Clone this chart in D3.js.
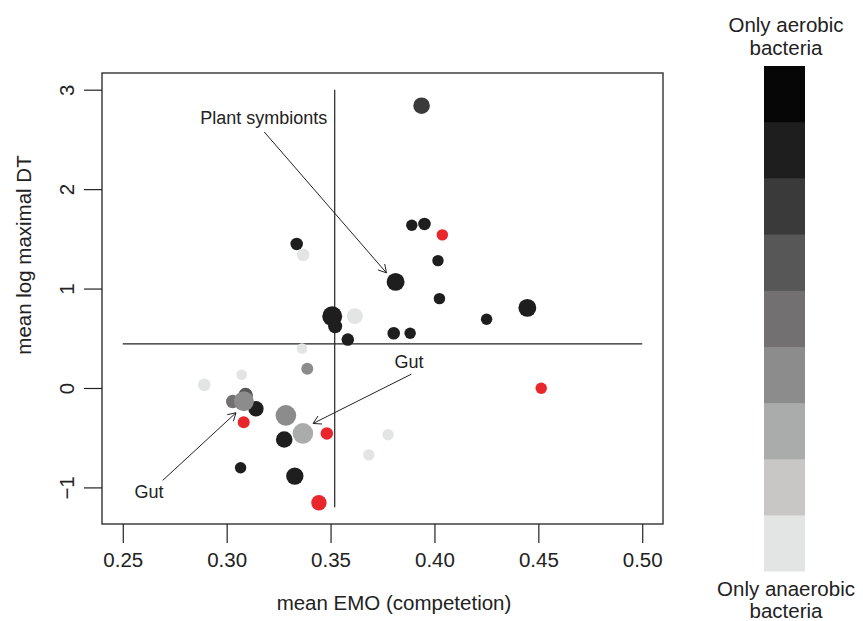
<!DOCTYPE html>
<html>
<head>
<meta charset="utf-8">
<script src="https://cdn.jsdelivr.net/npm/d3@7"></script>
<style>
  body { margin: 0; background: #fff; }
  svg { display: block; font-family: "Liberation Sans", Arial, Helvetica, sans-serif; }
  text { fill: #222; }
</style>
</head>
<body>
<svg width="863" height="621"></svg>
<script>
// mean EMO (competition) per group
const emo = [0.3938, 0.3337, 0.3368, 0.3891, 0.3952, 0.4038, 0.4017, 0.3813, 0.4024, 0.4447,
  0.4251, 0.3508, 0.3522, 0.3617, 0.3583, 0.3804, 0.3883, 0.3363, 0.3388, 0.2892,
  0.3072, 0.4514, 0.3029, 0.3091, 0.3141, 0.3083, 0.3285, 0.3082, 0.3277, 0.3367,
  0.3482, 0.3777, 0.3684, 0.3067, 0.3328, 0.3444];
// mean log maximal doubling time
const logDT = [2.839, 1.449, 1.339, 1.636, 1.650, 1.540, 1.281, 1.067, 0.899, 0.806,
  0.691, 0.722, 0.621, 0.722, 0.487, 0.551, 0.551, 0.397, 0.193, 0.032,
  0.133, -0.002, -0.136, -0.072, -0.209, -0.133, -0.276, -0.344, -0.518, -0.457,
  -0.457, -0.470, -0.673, -0.802, -0.886, -1.154];
// oxygen level: 0 = only anaerobic ... 8 = only aerobic, null = unknown (red)
const oxyLevel = [6, 7, 0, 7, 7, null, 7, 7, 7, 7,
  7, 7, 7, 0, 7, 7, 7, 0, 3, 0,
  0, null, 4, 5, 7, 3, 3, null, 7, 2,
  null, 0, 0, 7, 7, null];
// relative group size (point cex)
const groupSize = [1.48, 1.12, 1.12, 1.02, 1.12, 1.02, 1.02, 1.6, 1.02, 1.6,
  1.02, 1.78, 1.25, 1.43, 1.12, 1.12, 1.02, 0.95, 1.07, 1.12,
  0.95, 1.02, 1.2, 1.3, 1.37, 1.78, 1.84, 1.07, 1.48, 1.84,
  1.12, 1.02, 1.02, 1.02, 1.55, 1.37];

const legendColors = ["#e3e4e4", "#c8c7c6", "#aaabab", "#8c8c8c", "#727070",
  "#575757", "#3a3a3a", "#1e1e1e", "#060606"];
const xTicks = [0.25, 0.30, 0.35, 0.40, 0.45, 0.50];
const yTicks = [-1, 0, 1, 2, 3];
const meanEMO = 0.352;
const meanDT = 0.444;

const annotations = [
  { label: "Plant symbionts", tx: 0.3179, ty: 2.72, from: [0.3181, 2.575], to: [0.3769, 1.158] },
  { label: "Gut", tx: 0.3878, ty: 0.269, from: [0.3889, 0.139], to: [0.3416, -0.357] },
  { label: "Gut", tx: 0.2626, ty: -1.043, from: [0.2692, -0.930], to: [0.3045, -0.249] }
];

const points = emo.map((e, i) => ({ x: e, y: logDT[i], level: oxyLevel[i], size: groupSize[i] }));

const box = { left: 102, right: 663, top: 73, bottom: 524 };

const x = d3.scaleLinear().domain([0.24, 0.51]).range([box.left, box.right]);
const y = d3.scaleLinear().domain([-1.368, 3.168]).range([box.bottom, box.top]);
const r = d3.scaleLinear().domain([0, 1]).range([0, 5.6]);
const color = lv => lv === null ? "#e8262b" : legendColors[lv];

const svg = d3.select("svg");

// reference lines
svg.append("line")
  .attr("x1", x(meanEMO)).attr("x2", x(meanEMO))
  .attr("y1", y(-1.2)).attr("y2", y(3))
  .attr("stroke", "#222").attr("stroke-width", 1.2);
svg.append("line")
  .attr("x1", x(0.25)).attr("x2", x(0.5))
  .attr("y1", y(meanDT)).attr("y2", y(meanDT))
  .attr("stroke", "#222").attr("stroke-width", 1.2);

// points
svg.append("g")
  .selectAll("circle")
  .data(points)
  .join("circle")
  .attr("cx", d => x(d.x))
  .attr("cy", d => y(d.y))
  .attr("r", d => r(d.size))
  .attr("fill", d => color(d.level));

// annotations with open arrowheads
const ann = svg.append("g");
annotations.forEach(a => {
  const x0 = x(a.from[0]), y0 = y(a.from[1]);
  const x1 = x(a.to[0]), y1 = y(a.to[1]);
  const ang = Math.atan2(y1 - y0, x1 - x0);
  const len = 9, spread = Math.PI / 6;
  const p = d3.path();
  p.moveTo(x0, y0); p.lineTo(x1, y1);
  p.moveTo(x1 - len * Math.cos(ang - spread), y1 - len * Math.sin(ang - spread));
  p.lineTo(x1, y1);
  p.lineTo(x1 - len * Math.cos(ang + spread), y1 - len * Math.sin(ang + spread));
  ann.append("path")
    .attr("d", p.toString())
    .attr("fill", "none")
    .attr("stroke", "#222")
    .attr("stroke-width", 1);
  ann.append("text")
    .attr("x", x(a.tx))
    .attr("y", y(a.ty))
    .attr("dy", "0.35em")
    .attr("text-anchor", "middle")
    .style("font-size", "18px")
    .text(a.label);
});

// box
svg.append("rect")
  .attr("x", box.left).attr("y", box.top)
  .attr("width", box.right - box.left).attr("height", box.bottom - box.top)
  .attr("fill", "none").attr("stroke", "#222").attr("stroke-width", 1.3);

// x axis
const gx = svg.append("g")
  .attr("transform", `translate(0,${box.bottom})`)
  .call(d3.axisBottom(x).tickValues(xTicks).tickFormat(d3.format(".2f"))
    .tickSize(19).tickSizeOuter(0).tickPadding(9));
gx.select(".domain").remove();
gx.selectAll("line").attr("stroke", "#222").attr("stroke-width", 1.2);
gx.selectAll("text").style("font-size", "20.5px").attr("fill", "#222");

// y axis
const gy = svg.append("g")
  .attr("transform", `translate(${box.left},0)`)
  .call(d3.axisLeft(y).tickValues(yTicks).tickFormat(d => d < 0 ? "\u2212" + Math.abs(d) : d)
    .tickSize(18).tickSizeOuter(0));
gy.select(".domain").remove();
gy.selectAll("line").attr("stroke", "#222").attr("stroke-width", 1.2);
gy.selectAll("text")
  .attr("x", null).attr("dy", null)
  .attr("transform", `translate(${73.5 - box.left},0) rotate(-90)`)
  .style("text-anchor", "middle")
  .style("font-size", "20.5px")
  .attr("fill", "#222");

// axis titles
svg.append("text")
  .attr("x", 394).attr("y", 610)
  .attr("text-anchor", "middle")
  .style("font-size", "20.5px")
  .text("mean EMO (competetion)");
svg.append("text")
  .attr("transform", "translate(31,255) rotate(-90)")
  .attr("text-anchor", "middle")
  .style("font-size", "20.5px")
  .text("mean log maximal DT");

// colour key
const band = d3.scaleBand().domain(d3.range(legendColors.length)).range([571, 66]);
const key = svg.append("g");
key.selectAll("rect")
  .data(legendColors)
  .join("rect")
  .attr("x", 764)
  .attr("y", (d, i) => band(i))
  .attr("width", 41)
  .attr("height", band.bandwidth() + 0.5)
  .attr("fill", d => d);

const keyText = (lines, y0, step) => {
  lines.forEach((t, i) => {
    key.append("text")
      .attr("x", 786).attr("y", y0 + i * step)
      .attr("text-anchor", "middle")
      .style("font-size", "20.5px")
      .text(t);
  });
};
keyText(["Only aerobic", "bacteria"], 31.5, 23);
keyText(["Only anaerobic", "bacteria"], 596, 21.5);
</script>
</body>
</html>
